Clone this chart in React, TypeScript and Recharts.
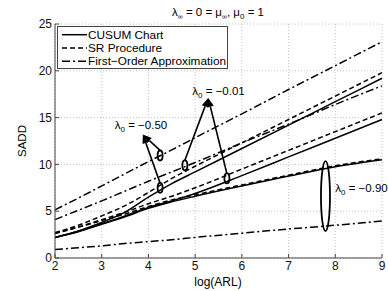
import {
  LineChart, Line, XAxis, YAxis, CartesianGrid, ReferenceLine, ReferenceDot, Legend, Customized,
} from "recharts";

const FONT = "'Liberation Sans', Arial, Helvetica, sans-serif";
const DASHED = "5 3";
const DASH_DOT = "8 3 2 3";

const logArl = [2, 2.5, 3, 3.5, 4, 4.5, 5, 6, 7, 8, 9];
const xTicks = [2, 3, 4, 5, 6, 7, 8, 9];
const yTicks = [0, 5, 10, 15, 20, 25];

// lambda0 = -0.50
const cusumA = [2.2, 2.9, 3.8, 4.9, 6.5, 7.95, 9.2, 11.7, 14.2, 16.7, 19.2];
const srA = [2.7, 3.5, 4.5, 5.6, 7.0, 8.5, 9.8, 12.3, 14.8, 17.3, 19.8];
const firstA = [5.15, 6.4, 7.7, 9.0, 10.3, 11.55, 12.85, 15.4, 18.0, 20.55, 23.1];
// lambda0 = -0.01
const cusumB = [2.2, 2.85, 3.65, 4.5, 5.4, 6.1, 6.9, 8.8, 10.8, 12.8, 14.8];
const srB = [2.6, 3.3, 4.1, 4.9, 5.8, 6.6, 7.5, 9.5, 11.5, 13.5, 15.5];
const firstB = [4.1, 5.1, 6.1, 7.15, 8.2, 9.2, 10.2, 12.3, 14.3, 16.4, 18.4];
// lambda0 = -0.90
const cusumC = [2.2, 2.8, 3.6, 4.4, 5.3, 6.0, 6.6, 7.7, 8.75, 9.75, 10.5];
const srC = [2.7, 3.3, 4.0, 4.7, 5.5, 6.2, 6.75, 7.8, 8.85, 9.85, 10.6];
const firstC = [0.9, 1.1, 1.3, 1.55, 1.75, 1.95, 2.2, 2.65, 3.1, 3.5, 3.95];

const series = [
  { key: "cusumA", dash: undefined }, { key: "srA", dash: DASHED }, { key: "firstA", dash: DASH_DOT },
  { key: "cusumB", dash: undefined }, { key: "srB", dash: DASHED }, { key: "firstB", dash: DASH_DOT },
  { key: "cusumC", dash: undefined }, { key: "srC", dash: DASHED }, { key: "firstC", dash: DASH_DOT },
];

const legendItems = [
  { label: "CUSUM Chart", dash: undefined },
  { label: "SR Procedure", dash: DASHED },
  { label: "First\u2212Order Approximation", dash: DASH_DOT },
];

// annotations (data coordinates)
const ellipses = [
  { x: 4.25, y: 10.95, rx: 2.5, ry: 5 },
  { x: 4.25, y: 7.5, rx: 2.5, ry: 5 },
  { x: 4.78, y: 9.9, rx: 2.5, ry: 5 },
  { x: 5.68, y: 8.5, rx: 2.5, ry: 5 },
  { x: 7.79, y: 6.6, rx: 4.5, ry: 35 },
];
const arrows = [
  { x1: 4.25, y1: 11.5, x2: 3.88, y2: 13.2 },
  { x1: 4.25, y1: 8.0, x2: 3.88, y2: 13.2 },
  { x1: 4.78, y1: 10.45, x2: 5.28, y2: 17.1 },
  { x1: 5.68, y1: 9.0, x2: 5.28, y2: 17.1 },
];
const lambdaLabels = [
  { x: 3.28, y: 14.2, value: "\u22120.50" },
  { x: 4.94, y: 17.8, value: "\u22120.01" },
  { x: 8.0, y: 7.5, value: "\u22120.90" },
];

const data = logArl.map((x, i) => ({
  x,
  cusumA: cusumA[i], srA: srA[i], firstA: firstA[i],
  cusumB: cusumB[i], srB: srB[i], firstB: firstB[i],
  cusumC: cusumC[i], srC: srC[i], firstC: firstC[i],
}));

const Arrow = (p: any) => {
  const { x1, y1, x2, y2 } = p;
  const a = Math.atan2(y2 - y1, x2 - x1);
  const L = 9, w = 3.5;
  const bx = x2 - L * Math.cos(a), by = y2 - L * Math.sin(a);
  const pts = `${x2},${y2} ${bx + w * Math.sin(a)},${by - w * Math.cos(a)} ${bx - w * Math.sin(a)},${by + w * Math.cos(a)}`;
  return (
    <g>
      <line x1={x1} y1={y1} x2={bx} y2={by} stroke="#000" strokeWidth={1.6} />
      <polygon points={pts} fill="#000" />
    </g>
  );
};

const LegendBox = () => (
  <svg width={171} height={43} style={{ display: "block" }}>
    <rect x={0.5} y={0.5} width={170} height={42} fill="#fff" stroke="#444" />
    {legendItems.map((it, i) => (
      <g key={it.label}>
        <line x1={5} x2={30} y1={8.7 + i * 13.3} y2={8.7 + i * 13.3} stroke="#000" strokeWidth={1.5} strokeDasharray={it.dash} />
        <text x={31} y={8.7 + i * 13.3} dy="0.35em" fontSize={11.8} fontFamily={FONT} fill="#000">{it.label}</text>
      </g>
    ))}
  </svg>
);

const Texts = () => (
  <g fontFamily={FONT} fill="#000">
    <text x={218} y={16} textAnchor="middle" fontSize={11.5}>
      λ<tspan fontSize={7} dy={3}>∞</tspan>
      <tspan dy={-3}> = 0 = μ</tspan>
      <tspan fontSize={7} dy={3}>∞</tspan>
      <tspan dy={-3}>, μ</tspan>
      <tspan fontSize={8} dy={3}>0</tspan>
      <tspan dy={-3}> = 1</tspan>
    </text>
    <text x={218} y={286} textAnchor="middle" fontSize={12}>log(ARL)</text>
    <text x={26} y={141} textAnchor="middle" fontSize={11.5} transform="rotate(-90 26 141)">SADD</text>
  </g>
);

const noLabel = () => null;

export default function App() {
  return (
    <div style={{ position: "absolute", left: 0, top: 0, width: 388, height: 291, background: "#fff" }}>
      <LineChart width={388} height={291} data={data} margin={{ top: 24, right: 6, bottom: 0, left: 0 }}>
        <CartesianGrid stroke="#c4c4c4" strokeDasharray="1 2" />
        <XAxis dataKey="x" type="number" domain={[2, 9]} ticks={xTicks} height={33}
          stroke="#444" tickSize={-4} tickMargin={7} interval={0}
          tick={{ fill: "#111", fontSize: 12, fontFamily: FONT }} />
        <XAxis xAxisId="top" orientation="top" dataKey="x" type="number" domain={[2, 9]} ticks={xTicks}
          height={0} stroke="#444" tickSize={-4} tick={noLabel} interval={0} />
        <YAxis type="number" domain={[0, 25]} ticks={yTicks} width={55}
          stroke="#444" tickSize={-4} tickMargin={7} interval={0}
          tick={{ fill: "#111", fontSize: 12, fontFamily: FONT }} />
        <YAxis yAxisId="right" orientation="right" type="number" domain={[0, 25]} ticks={yTicks}
          width={0} stroke="#444" tickSize={-4} tick={noLabel} interval={0} />
        {series.map((s) => (
          <Line key={s.key} dataKey={s.key} type="monotone" stroke="#000" strokeWidth={1.5}
            strokeDasharray={s.dash} dot={false} isAnimationActive={false} />
        ))}
        {ellipses.map((e, i) => (
          <ReferenceDot key={`e${i}`} x={e.x} y={e.y} r={1}
            shape={(p: any) => <ellipse cx={p.cx} cy={p.cy} rx={e.rx} ry={e.ry} fill="none" stroke="#000" strokeWidth={1.8} />} />
        ))}
        {arrows.map((a, i) => (
          <ReferenceLine key={`a${i}`} segment={[{ x: a.x1, y: a.y1 }, { x: a.x2, y: a.y2 }]} shape={Arrow} />
        ))}
        {lambdaLabels.map((l) => (
          <ReferenceDot key={l.value} x={l.x} y={l.y} r={1}
            shape={(p: any) => (
              <text x={p.cx} y={p.cy} dy="0.35em" fontSize={11.5} fontFamily={FONT} fill="#000">
                λ<tspan fontSize={8} dy={3}>0</tspan><tspan dy={-3}> = {l.value}</tspan>
              </text>
            )} />
        ))}
        <Legend layout="vertical" align="center" verticalAlign="middle" content={LegendBox}
          wrapperStyle={{ left: 57, top: 26, width: 171, height: 43 }} />
        <Customized component={Texts} />
      </LineChart>
    </div>
  );
}
